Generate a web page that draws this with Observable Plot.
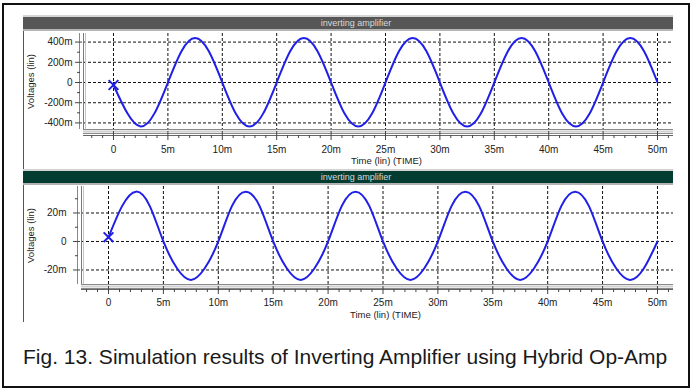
<!DOCTYPE html>
<html><head><meta charset="utf-8">
<script src="https://cdn.jsdelivr.net/npm/d3@7"></script>
<script src="https://cdn.jsdelivr.net/npm/@observablehq/plot@0.6"></script>
<style>
html,body{margin:0;padding:0;background:#fff;}
#wrap{position:relative;width:691px;height:391px;overflow:hidden;font-family:"Liberation Sans",Arial,sans-serif;}
.abs{position:absolute;}
#border{left:2px;top:3px;width:684px;height:381px;border:2px solid #111;}
#vline{left:23px;top:30px;width:1px;height:292px;background:#555;}
.bar{left:23px;width:650px;box-sizing:border-box;text-align:center;color:#d8d8d8;font-size:9px;line-height:12px;padding-left:16px;z-index:3;}
#bar1{top:15px;height:16px;background:#565656;border-top:2px solid #d4d4d4;border-bottom:2px solid #b4b4b4;}
#bar2{top:169px;height:16px;background:#033d32;border-top:2px solid #d4d4d4;border-bottom:2px solid #b4b4b4;}
#caption{left:23px;top:345px;font-size:21px;line-height:24px;color:#1a1a1a;white-space:nowrap;z-index:3;}
#p1{left:0;top:0;z-index:1;}
#p2{left:0;top:165px;z-index:1;}
</style>
</head><body>
<div id="wrap">
  <div id="border" class="abs"></div>
  <div id="vline" class="abs"></div>
  <div id="bar1" class="abs bar">inverting amplifier</div>
  <div id="bar2" class="abs bar">inverting amplifier</div>
  <div id="p1" class="abs"></div>
  <div id="p2" class="abs"></div>
  <div id="caption" class="abs">Fig. 13. Simulation results of Inverting Amplifier using Hybrid Op-Amp</div>
</div>
<script>
// time samples (ms)
const timeMs = [0,1.25,2.5,3.75,5,6.25,7.5,8.75,10,11.25,12.5,13.75,15,16.25,17.5,18.75,20,21.25,22.5,23.75,25,26.25,27.5,28.75,30,31.25,32.5,33.75,35,36.25,37.5,38.75,40,41.25,42.5,43.75,45,46.25,47.5,48.75,50];
// top panel voltages (mV)
const topVolts = [
 -25,-300,-435,-308,0,310,440,311,
 0,-309,-435,-308,0,311,440,310,
 0,-310,-435,-309,0,311,440,311,
 0,-309,-435,-309,0,310,440,311,
 0,-310,-435,-309,0,311,440,311,
 0];
// bottom panel voltages (mV)
const botVolts = [
 3,25,35,25,0,-19,-27,-19,
 0,25,35,25,0,-19,-27,-19,
 0,25,35,25,0,-19,-27,-19,
 0,25,35,25,0,-19,-27,-19,
 0,25,35,25,0,-19,-27,-19,
 0];
const topMarker = [{t:0, v:-25}];
const botMarker = [{t:0, v:3}];

const xTickValues = [0,5,10,15,20,25,30,35,40,45,50];
const xTickLabels = ["0","5m","10m","15m","20m","25m","30m","35m","40m","45m","50m"];
const xMinorTicks = [-2,-1,1,2,3,4,6,7,8,9,11,12,13,14,16,17,18,19,21,22,23,24,26,27,28,29,31,32,33,34,36,37,38,39,41,42,43,44,46,47,48,49,51];
const topYTickValues = [-400,-200,0,200,400];
const topYTickLabels = ["-400m","-200m","0","200m","400m"];
const topYMinor = [-300,-100,100,300];
const botYTickValues = [-20,0,20];
const botYTickLabels = ["-20m","0","20m"];
const botYMinor = [-10,10,30];
const xLabel = "Time (lin) (TIME)";
const yLabel = "Voltages (lin)";

const BLUE = "#1f1fe8";

function panel(cfg){
  const series = timeMs.map((t,i)=>({t, v: cfg.volts[i]}));
  const [x0,x1] = cfg.xDomain, [y0,y1] = cfg.yDomain;
  const xt = xTickValues.map((v,i)=>({v, label:xTickLabels[i]}));
  const yt = cfg.yTicks.map((v,i)=>({v, label:cfg.yLabels[i]}));
  return Plot.plot({
    width:691, height:cfg.height,
    marginLeft:cfg.ml, marginRight:18, marginTop:cfg.mt, marginBottom:41,
    x:{domain:cfg.xDomain, axis:null},
    y:{domain:cfg.yDomain, axis:null},
    style:{background:"transparent", fontFamily:"'Liberation Sans', Arial, sans-serif", fontSize:"10px", color:"#222", overflow:"visible"},
    marks:[
      Plot.ruleX(xTickValues, {stroke:"#111", strokeDasharray:"3,2", strokeWidth:1}),
      Plot.ruleY(cfg.yTicks, {stroke:"#111", strokeDasharray:"3,2", strokeWidth:1}),
      // left frame
      Plot.ruleX([x0], {stroke:"#7a7a7a"}),
      Plot.ruleX([x0], {stroke:"#c4c4c4", dx:2}),
      // bottom frame
      Plot.ruleY([y0], {stroke:"#8a8a8a"}),
      Plot.ruleY([y0], {stroke:"#d0d0d0", dy:2, strokeWidth:2}),
      Plot.ruleY([y0], {stroke:"#8a8a8a", dy:4}),
      // x ruler
      Plot.ruleY([y0], {stroke:"#666", dy:cfg.rulerDy}),
      Plot.ruleX(xTickValues, {y1:()=>y0, y2:()=>y0, insetTop:2, insetBottom:-(cfg.rulerDy+5), stroke:"#444"}),
      Plot.ruleX(xMinorTicks, {y1:()=>y0, y2:()=>y0, insetTop:cfg.rulerDy, insetBottom:-(cfg.rulerDy+3), stroke:"#444"}),
      // y ruler
      Plot.ruleX([x0], {stroke:"#888", dx:-4}),
      Plot.ruleY(cfg.yTicks, {x1:()=>x0, x2:()=>x0, insetLeft:-8, insetRight:1, stroke:"#444"}),
      Plot.ruleY(cfg.yMinor, {x1:()=>x0, x2:()=>x0, insetLeft:-6, insetRight:3, stroke:"#444"}),
      // data
      Plot.line(series, {x:"t", y:"v", stroke:BLUE, strokeWidth:2, curve:"natural"}),
      Plot.dot(cfg.marker, {x:"t", y:"v", symbol:"times", r:4.5, stroke:BLUE, strokeWidth:2}),
      // labels
      Plot.text(xt, {x:"v", y:()=>y0, dy:cfg.xLabDy, text:"label", fill:"#222"}),
      Plot.text(yt, {x:()=>x0, y:"v", dx:cfg.yLabDx, text:"label", textAnchor:"end", fill:"#222"}),
      Plot.text([xLabel], {frameAnchor:"bottom", dy:cfg.titleDy, dx:8, text:d=>d, fill:"#222", fontSize:9.5}),
      Plot.text([yLabel], {frameAnchor:"left", textAnchor:"middle", rotate:-90, dx:cfg.yTitleDx, text:d=>d, fill:"#222", fontSize:9.5})
    ]
  });
}

document.getElementById("p1").append(panel({
  volts: topVolts, marker: topMarker, height:170, ml:83, mt:33,
  xDomain:[-2.757, 51.47], yDomain:[-465, 485],
  yTicks: topYTickValues, yLabels: topYTickLabels, yMinor: topYMinor,
  rulerDy:6, xLabDy:20, titleDy:34, yLabDx:-11, yTitleDx:-53
}));
document.getElementById("p2").append(panel({
  volts: botVolts, marker: botMarker, height:160, ml:81, mt:21,
  xDomain:[-2.46, 51.46], yDomain:[-30.2, 38.6],
  yTicks: botYTickValues, yLabels: botYTickLabels, yMinor: botYMinor,
  rulerDy:5, xLabDy:18, titleDy:33, yLabDx:-15, yTitleDx:-51
}));
</script>
</body></html>
